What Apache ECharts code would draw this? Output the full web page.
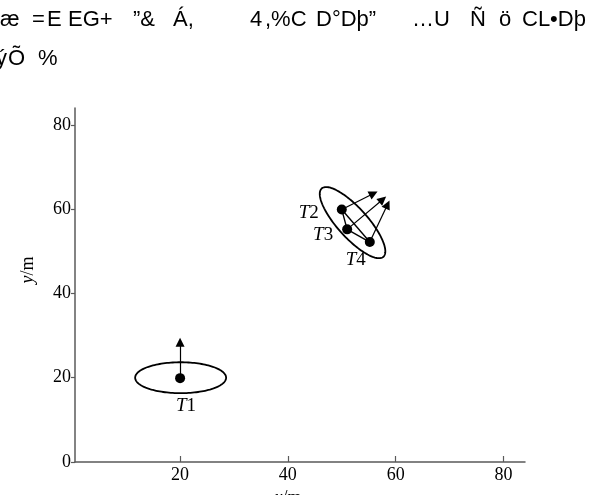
<!DOCTYPE html>
<html><head><meta charset="utf-8">
<script src="https://cdn.jsdelivr.net/npm/echarts@6/dist/echarts.min.js"></script>
<style>html,body{margin:0;padding:0;background:#fff}#c{width:613px;height:495px}</style>
</head><body><div id="c"></div>
<script>
// ---- data ----
const titleLine1 = ['æ','=','E','EG+','”&','Á,','4',',%C','D°Dþ”','…U','Ñ','ö','CL•Dþ'];
const titleLine2 = ['ý','Õ','%'];
const xTicks = [20, 40, 60, 80];
const yTicks = [0, 20, 40, 60, 80];
const targetNames = ['T1', 'T2', 'T3', 'T4'];
const targetX = [20, 50, 51, 55.2];
const targetY = [19.9, 59.9, 55.2, 52.2];
const arrowTipX = [20, 55.9, 57.6, 58.5];
const arrowTipY = [28.4, 63.7, 62.3, 61.1];
const linkPairs = [[1, 2], [2, 3], [1, 3]];
const ellipseCenterX = [20.1, 52.0];
const ellipseCenterY = [20.0, 56.8];
const ellipseMajor = [[8.44, 0], [5.72, -8.1]];
const ellipseMinor = [[0, 3.67], [2.07, 2.38]];

// ---- layout / style (not data) ----
const titleLine1Pos = [0, 32, 47, 68, 133, 173, 250, 265, 316, 412, 470, 499, 522];
const titleLine2Pos = [-4, 8, 38];
const labelOffsets = [[6, 28], [-33, 3], [-24, 6], [-14, 18]];
const serif = '"Liberation Serif", "Times New Roman", serif';
const sans = '"Liberation Sans", Arial, sans-serif';

const chart = echarts.init(document.getElementById('c'), null, {renderer: 'canvas'});

const graphics = [];
titleLine1.forEach((t, i) => graphics.push({type: 'text', x: titleLine1Pos[i], y: 20,
  style: {text: t, fontSize: 22, fontFamily: sans, fill: '#000', verticalAlign: 'middle'}}));
titleLine2.forEach((t, i) => graphics.push({type: 'text', x: titleLine2Pos[i], y: 59,
  style: {text: t, fontSize: 22, fontFamily: sans, fill: '#000', verticalAlign: 'middle'}}));

const richName = {
  i: {fontStyle: 'italic', fontFamily: serif, fontSize: 18, color: '#000'},
  n: {fontFamily: serif, fontSize: 18, color: '#000'}
};
const richLabel = {
  i: {fontStyle: 'italic', fontFamily: serif, fontSize: 19, color: '#000'},
  n: {fontFamily: serif, fontSize: 19, color: '#000'}
};

const ellipseData = ellipseCenterX.map((cx, i) => [cx, ellipseCenterY[i],
  ellipseMajor[i][0], ellipseMajor[i][1], ellipseMinor[i][0], ellipseMinor[i][1]]);

const dotData = targetNames.map((n, i) => ({
  name: n, value: [targetX[i], targetY[i]],
  label: {offset: labelOffsets[i]}
}));

const arrowData = targetNames.map((n, i) => ({coords: [[targetX[i], targetY[i]], [arrowTipX[i], arrowTipY[i]]]}));
const linkData = linkPairs.map(p => ({coords: [[targetX[p[0]], targetY[p[0]]], [targetX[p[1]], targetY[p[1]]]]}));

const axisColor = '#5a5a5a';

chart.setOption({
  animation: false,
  backgroundColor: '#fff',
  graphic: graphics,
  grid: {left: 75, right: 88, top: 108, bottom: 33, containLabel: false, outerBoundsMode: 'none'},
  xAxis: {
    type: 'value', min: 0.5, max: 84,
    axisLine: {show: true, lineStyle: {color: axisColor, width: 1.5}},
    axisTick: {show: true, inside: true, length: 6, customValues: xTicks, lineStyle: {color: axisColor, width: 1.2}},
    axisLabel: {customValues: xTicks, color: '#000', fontFamily: serif, fontSize: 18, margin: 4},
    splitLine: {show: false},
    name: '{i|x}{n|/m}', nameLocation: 'middle', nameGap: 24,
    nameTextStyle: {rich: richName, padding: [0, 24, 0, 0]}
  },
  yAxis: {
    type: 'value', min: 0, max: 84,
    axisLine: {show: true, lineStyle: {color: axisColor, width: 1.5}},
    axisTick: {show: true, inside: false, length: 4, customValues: yTicks, lineStyle: {color: axisColor, width: 1.2}},
    axisLabel: {customValues: yTicks, color: '#000', fontFamily: serif, fontSize: 18, margin: 4},
    splitLine: {show: false},
    name: '{i|y}{n|/m}', nameLocation: 'middle', nameGap: 38,
    nameTextStyle: {rich: richName, padding: [0, 0, 0, 30]}
  },
  series: [
    {
      type: 'custom', coordinateSystem: 'cartesian2d', silent: true,
      dimensions: ['x', 'y', 'ax', 'ay', 'bx', 'by'],
      encode: {x: 0, y: 1},
      data: ellipseData,
      renderItem: function (params, api) {
        const cx = api.value(0), cy = api.value(1);
        const ax = api.value(2), ay = api.value(3), bx = api.value(4), by = api.value(5);
        const pts = [];
        const N = 144;
        for (let k = 0; k <= N; k++) {
          const t = k / N * 2 * Math.PI;
          pts.push(api.coord([cx + ax * Math.cos(t) + bx * Math.sin(t), cy + ay * Math.cos(t) + by * Math.sin(t)]));
        }
        return {type: 'polygon', shape: {points: pts}, style: {fill: 'none', stroke: '#000', lineWidth: 1.8}};
      },
      z: 2
    },
    {
      type: 'lines', coordinateSystem: 'cartesian2d', silent: true,
      data: linkData,
      symbol: ['none', 'none'],
      lineStyle: {color: '#000', width: 1.4, opacity: 1},
      z: 3
    },
    {
      type: 'lines', coordinateSystem: 'cartesian2d', silent: true,
      data: arrowData,
      symbol: ['none', 'path://M0,0 L4,12 L-4,12 Z'], symbolSize: [0, 9],
      lineStyle: {color: '#000', width: 1.2, opacity: 1},
      itemStyle: {color: '#000'},
      z: 3
    },
    {
      type: 'scatter', silent: true,
      data: dotData,
      symbol: 'circle', symbolSize: 10,
      itemStyle: {color: '#000', opacity: 1},
      label: {
        show: true, position: 'inside', color: '#000',
        formatter: p => '{i|' + p.name.charAt(0) + '}{n|' + p.name.slice(1) + '}',
        rich: richLabel, align: 'center', verticalAlign: 'middle'
      },
      z: 4
    }
  ]
});
</script>
</body></html>
